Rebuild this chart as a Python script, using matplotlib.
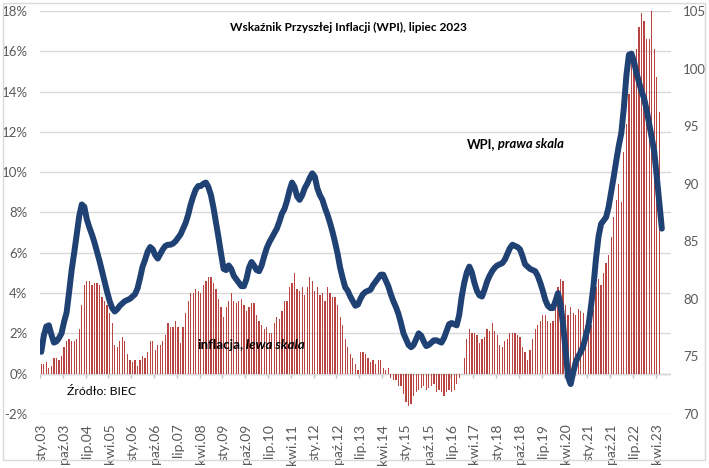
import matplotlib
matplotlib.use("Agg")
import matplotlib.pyplot as plt
from matplotlib.patches import Rectangle

plt.rcParams['font.family'] = ['Lato', 'DejaVu Sans']

# months from sty.03 onwards, polish short names
month_names = ['sty', 'lut', 'mar', 'kwi', 'maj', 'cze',
               'lip', 'sie', 'wrz', 'paź', 'lis', 'gru']
start_year = 2003
n_months = 249  # category axis runs a little past the last data point

# CPI y/y, % (left scale), sty.03 - maj.23
inflacja = [
    0.5, 0.5, 0.6, 0.3, 0.4, 0.8, 0.8, 0.7, 0.9, 1.3, 1.6, 1.7,
    1.6, 1.6, 1.7, 2.2, 3.4, 4.4, 4.6, 4.6, 4.4, 4.5, 4.5, 4.4,
    3.8, 3.6, 3.4, 3.0, 2.5, 1.4, 1.3, 1.6, 1.8, 1.6, 1.0, 0.7,
    0.6, 0.7, 0.4, 0.7, 0.9, 0.8, 1.1, 1.6, 1.6, 1.2, 1.4, 1.4,
    1.6, 1.9, 2.5, 2.3, 2.3, 2.6, 2.3, 1.5, 2.3, 3.0, 3.6, 4.0,
    4.0, 4.2, 4.1, 4.0, 4.4, 4.6, 4.8, 4.8, 4.5, 4.2, 3.7, 3.3,
    2.8, 3.3, 3.6, 4.0, 3.6, 3.5, 3.6, 3.7, 3.4, 3.1, 3.3, 3.5,
    3.5, 2.9, 2.6, 2.4, 2.2, 2.3, 2.0, 2.0, 2.5, 2.8, 2.7, 3.1,
    3.6, 3.6, 4.3, 4.5, 5.0, 4.2, 4.1, 4.3, 3.9, 4.3, 4.8, 4.6,
    4.1, 4.3, 3.9, 4.0, 3.6, 4.3, 4.0, 3.8, 3.8, 3.4, 2.8, 2.4,
    1.7, 1.3, 1.0, 0.8, 0.5, 0.2, 1.1, 1.1, 1.0, 0.8, 0.6, 0.7,
    0.5, 0.7, 0.7, 0.3, 0.2, 0.3, -0.2, -0.3, -0.3, -0.6, -0.6, -1.0,
    -1.4, -1.6, -1.5, -1.1, -0.9, -0.8, -0.7, -0.6, -0.8, -0.7, -0.6, -0.5,
    -0.9, -0.8, -0.9, -1.1, -0.9, -0.8, -0.9, -0.8, -0.5, -0.2, 0.0, 0.8,
    1.7, 2.2, 2.0, 2.0, 1.9, 1.5, 1.7, 1.8, 2.2, 2.1, 2.5, 2.1,
    1.9, 1.4, 1.3, 1.6, 1.7, 2.0, 2.0, 2.0, 1.9, 1.8, 1.3, 1.1,
    0.7, 1.2, 1.7, 2.2, 2.4, 2.6, 2.9, 2.9, 2.6, 2.5, 2.6, 3.4,
    4.3, 4.7, 4.6, 3.4, 2.9, 3.3, 3.0, 2.9, 3.2, 3.1, 3.0, 2.4,
    2.6, 2.4, 3.2, 4.3, 4.7, 4.4, 5.0, 5.5, 5.9, 6.8, 7.8, 8.6,
    9.4, 8.5, 11.0, 12.4, 13.9, 15.5, 15.6, 16.1, 17.2, 17.9, 17.5, 16.6,
    16.6, 18.4, 16.1, 14.7, 13.0,
]

# WPI (right scale), sty.03 - cze.23
wpi = [
    75.4, 76.8, 77.6, 77.7, 76.9, 76.2, 76.3, 76.6, 77.0, 78.0, 78.8, 80.6,
    82.5, 84.0, 85.6, 87.2, 88.2, 88.0, 86.9, 86.2, 85.6, 84.9, 84.1, 83.3,
    82.4, 81.5, 80.6, 79.8, 79.2, 78.9, 79.1, 79.4, 79.6, 79.8, 79.9, 80.0,
    80.2, 80.4, 80.9, 81.8, 82.8, 83.4, 84.1, 84.5, 84.3, 83.8, 83.5, 83.9,
    84.3, 84.6, 84.7, 84.7, 84.8, 85.0, 85.3, 85.6, 86.1, 86.6, 87.3, 88.2,
    88.9, 89.5, 89.8, 89.8, 90.0, 90.1, 89.7, 89.0, 87.9, 86.6, 85.3, 83.9,
    82.6, 82.5, 82.9, 82.6, 82.0, 81.7, 81.4, 81.1, 81.1, 81.7, 82.7, 83.2,
    82.9, 82.5, 82.4, 82.9, 83.7, 84.4, 84.9, 85.3, 85.7, 86.1, 86.7, 87.4,
    87.8, 88.5, 89.4, 90.1, 89.7, 88.9, 88.6, 89.0, 89.6, 90.0, 90.5, 90.9,
    90.6, 89.6, 89.0, 88.6, 87.9, 87.3, 86.6, 85.8, 84.9, 83.9, 82.7, 81.8,
    81.0, 80.7, 80.2, 79.8, 79.4, 79.5, 80.0, 80.4, 80.6, 80.7, 80.8, 81.2,
    81.5, 81.8, 82.1, 82.1, 81.6, 81.1, 80.4, 79.8, 79.3, 78.7, 77.9, 77.0,
    76.5, 76.0, 75.8, 76.0, 76.5, 77.0, 76.8, 76.3, 75.9, 76.0, 76.2, 76.4,
    76.4, 76.3, 76.2, 76.6, 77.2, 77.8, 77.9, 77.8, 77.7, 78.6, 80.2, 81.4,
    82.3, 82.8, 82.3, 81.4, 80.7, 80.3, 80.2, 80.8, 81.5, 82.0, 82.4, 82.7,
    82.9, 83.0, 83.1, 83.4, 83.9, 84.4, 84.7, 84.6, 84.5, 84.3, 83.7, 83.0,
    82.8, 82.6, 82.5, 82.4, 82.0, 81.4, 80.7, 79.9, 79.4, 79.2, 79.2, 79.8,
    80.5, 79.5, 77.8, 75.5, 73.2, 72.6, 73.6, 74.5, 75.0, 75.4, 75.9, 76.8,
    77.6, 79.3, 81.1, 83.5, 85.4, 86.5, 86.8, 87.1, 88.0, 89.3, 90.6, 92.0,
    93.3, 94.4, 96.6, 99.4, 101.2, 101.3, 100.6, 99.6, 98.8, 98.0, 97.4, 96.4,
    95.2, 94.0, 92.8, 90.6, 88.3, 86.1,
]

left_ticks = [-2, 0, 2, 4, 6, 8, 10, 12, 14, 16, 18]
right_ticks = [70, 75, 80, 85, 90, 95, 100, 105]
label_step = 9


def month_label(i):
    year = start_year + i // 12
    return '%s.%02d' % (month_names[i % 12], year % 100)


def main():
    grey = '#595959'
    fig = plt.figure(figsize=(7.09, 4.68), dpi=100)
    ax = fig.add_subplot(111)
    fig.subplots_adjust(left=0.0564, right=0.946, top=0.9765, bottom=0.1154)

    # bars - inflation
    ax.bar(range(len(inflacja)), inflacja, width=0.5, color='#b84542',
           zorder=2)
    ax.set_ylim(-2, 18)
    ax.set_xlim(-0.5, n_months - 0.5)
    ax.set_yticks(left_ticks)
    ax.set_yticklabels(['%d%%' % v for v in left_ticks])
    ax.grid(axis='y', color='#d9d9d9', linewidth=1.0, zorder=0)
    ax.axhline(0, color='#c4c4c4', linewidth=1.0, zorder=1)

    tick_idx = list(range(0, len(inflacja), label_step))
    ax.set_xticks(tick_idx)
    ax.set_xticklabels([month_label(i) for i in tick_idx], rotation=90)
    ax.vlines([i - 0.5 for i in tick_idx], -0.2, 0, color='#c4c4c4',
              linewidth=1.0, zorder=1)
    ax.tick_params(axis='both', length=0, labelcolor=grey, labelsize=9.5)
    ax.tick_params(axis='x', labelsize=10, pad=7)
    ax.tick_params(axis='y', pad=9)
    for s in ax.spines.values():
        s.set_visible(False)

    # line - WPI on the right scale
    ax2 = ax.twinx()
    ax2.plot(range(len(wpi)), wpi, color='#1f4173', linewidth=4.3,
             solid_capstyle='round', solid_joinstyle='round')
    ax2.set_ylim(70, 105)
    ax2.set_yticks(right_ticks)
    ax2.tick_params(axis='y', length=0, labelcolor=grey, labelsize=9.5, pad=9)
    for s in ax2.spines.values():
        s.set_visible(False)

    ax.text(0.489, 0.958, 'Wskaźnik Przyszłej Inflacji (WPI), lipiec 2023',
            transform=ax.transAxes, ha='center', va='center',
            fontsize=8.6, fontweight='bold')

    t1 = ax2.text(0.677, 0.670, 'WPI,', transform=ax.transAxes,
                  ha='left', va='center', fontsize=9.4, fontweight='bold')
    ax2.annotate(' prawa skala', xy=(1, 0), xycoords=t1, va='bottom',
                 fontsize=9.4, fontweight='bold', fontstyle='italic')

    t2 = ax2.text(0.249, 0.171, 'inflacja,', transform=ax.transAxes,
                  ha='left', va='center', fontsize=9.6, fontweight='bold')
    ax2.annotate(' lewa skala', xy=(1, 0), xycoords=t2, va='bottom',
                 fontsize=9.6, fontweight='bold', fontstyle='italic')

    ax.text(0.043, 0.055, 'Źródło: BIEC', transform=ax.transAxes,
            ha='left', va='center', fontsize=8.8)

    fig.patches.append(Rectangle((3 / 709, 1 - 460 / 468), 702 / 709,
                                 457 / 468, transform=fig.transFigure,
                                 fill=False, edgecolor='#d9d9d9',
                                 linewidth=1.0))

    fig.savefig('out.png', dpi=100)


if __name__ == '__main__':
    main()
